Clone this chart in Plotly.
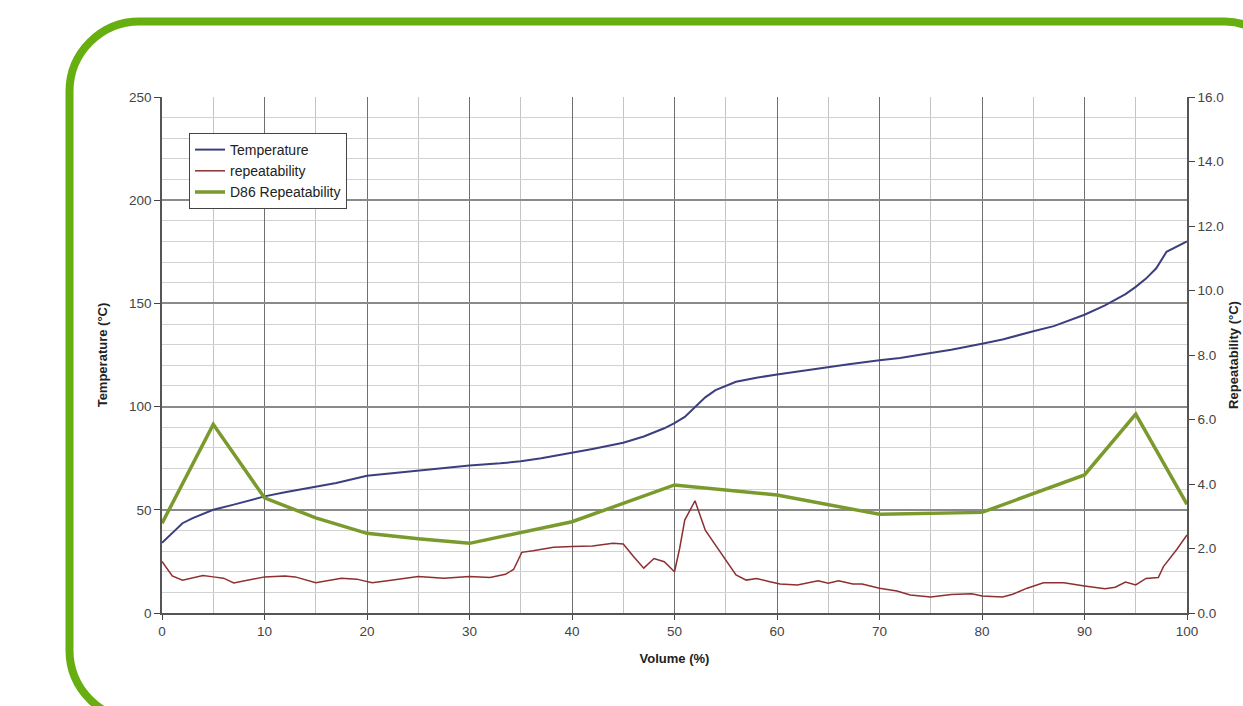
import plotly.graph_objects as go

# ---- data ----
temp_vol = [0, 1, 2, 3, 4, 5, 7, 10, 12, 15, 17, 20, 22, 25, 28, 30, 33, 35, 37, 40, 42, 45, 47, 49,
            50, 51, 52, 53, 54, 55, 56, 57, 58, 60, 62, 65, 67, 70, 72, 75, 77, 80, 82, 85, 87, 90,
            92, 94, 95, 96, 97, 98, 99, 100]
temperature = [34, 39, 43.5, 46, 48, 50, 52.5, 56.5, 58.5, 61, 63, 66.5, 67.5, 69, 70.5, 71.5, 72.5,
               73.5, 75, 77.5, 79.5, 82.5, 85.5, 89.5, 92, 95, 100, 104.5, 108, 110, 112, 113, 114,
               115.5, 117, 119, 120.5, 122.5, 123.5, 126, 127.5, 130.5, 132.5, 136.5, 139, 144.5,
               149, 154.5, 158, 162, 167, 175, 177.5, 180]

rep_vol = [0, 1, 2, 3, 4, 5, 6, 7, 8, 10, 12, 13, 15, 17.5, 19, 20.5, 22, 25, 27.5, 30, 32, 33.5,
           34.3, 35.1, 36.2, 38.2, 40, 42, 44, 45, 46, 47, 48, 49, 50, 50.5, 51, 52, 53, 54, 55,
           56, 57, 58, 59.3, 60.3, 62, 64, 65, 66, 67.4, 68.3, 70, 71.7, 73, 75, 77, 79, 80, 82,
           83, 84.4, 86, 88, 90, 92, 93, 94, 95, 96, 97.2, 97.7, 99, 100]
repeatability = [1.6, 1.15, 1.02, 1.08, 1.16, 1.12, 1.08, 0.93, 1.0, 1.12, 1.15, 1.12, 0.94, 1.08,
                 1.05, 0.94, 1.0, 1.13, 1.08, 1.13, 1.1, 1.2, 1.35, 1.88, 1.93, 2.04, 2.06, 2.08,
                 2.16, 2.14, 1.75, 1.39, 1.69, 1.59, 1.28, 2.0, 2.88, 3.48, 2.57, 2.11, 1.64, 1.18,
                 1.02, 1.07, 0.97, 0.9, 0.87, 1.0, 0.92, 1.0, 0.9, 0.9, 0.77, 0.68, 0.56, 0.5, 0.57,
                 0.6, 0.53, 0.5, 0.58, 0.77, 0.94, 0.94, 0.84, 0.75, 0.8, 0.96, 0.87, 1.07, 1.1,
                 1.44, 1.97, 2.42]

d86_vol = [0, 5, 10, 15, 20, 25, 30, 40, 50, 60, 70, 80, 90, 95, 100]
d86_rep = [2.78, 5.85, 3.57, 2.95, 2.47, 2.3, 2.16, 2.83, 3.97, 3.66, 3.06, 3.12, 4.28, 6.17, 3.37]

x_ticks = list(range(0, 101, 10))
y_ticks = [0, 50, 100, 150, 200, 250]
y2_ticks = [0, 2, 4, 6, 8, 10, 12, 14, 16]

# ---- layout geometry (pixels) ----
W, H = 1243, 706
L, R, T, B = 162, 56, 97, 93
PW, PH = W - L - R, H - T - B


def px(x):
    return (x - L) / PW


def py(y):
    return (H - B - y) / PH


def frame_path(left, top, right, bottom, r_tl, r_tr, r_br, r_bl):
    k = 0.5523
    d = f"M{px(left + r_tl)},{py(top)} "
    d += f"L{px(right - r_tr)},{py(top)} "
    d += (f"C{px(right - r_tr + k * r_tr)},{py(top)} {px(right)},{py(top + r_tr - k * r_tr)} "
          f"{px(right)},{py(top + r_tr)} ")
    d += f"L{px(right)},{py(bottom - r_br)} "
    d += (f"C{px(right)},{py(bottom - r_br + k * r_br)} {px(right - r_br + k * r_br)},{py(bottom)} "
          f"{px(right - r_br)},{py(bottom)} ")
    d += f"L{px(left + r_bl)},{py(bottom)} "
    d += (f"C{px(left + r_bl - k * r_bl)},{py(bottom)} {px(left)},{py(bottom - r_bl + k * r_bl)} "
          f"{px(left)},{py(bottom - r_bl)} ")
    d += f"L{px(left)},{py(top + r_tl)} "
    d += (f"C{px(left)},{py(top + r_tl - k * r_tl)} {px(left + r_tl - k * r_tl)},{py(top)} "
          f"{px(left + r_tl)},{py(top)} Z")
    return d


FONT = "Liberation Sans, Arial, sans-serif"
TICKFONT = dict(family=FONT, size=13.5, color="#444")
TITLEFONT = dict(family=FONT, size=13, color="#222")

fig = go.Figure()
fig.add_trace(go.Scatter(x=temp_vol, y=temperature, name="Temperature", mode="lines",
                         line=dict(color="#3b3f7e", width=2)))
fig.add_trace(go.Scatter(x=rep_vol, y=repeatability, name="repeatability", mode="lines",
                         line=dict(color="#8e2f30", width=1.5), yaxis="y2"))
fig.add_trace(go.Scatter(x=d86_vol, y=d86_rep, name="D86 Repeatability", mode="lines",
                         line=dict(color="#7b9a2e", width=3.5), yaxis="y2"))

fig.update_layout(
    width=W, height=H,
    margin=dict(l=L, r=R, t=T, b=B),
    paper_bgcolor="white", plot_bgcolor="white",
    font=dict(family=FONT, size=12, color="#333"),
    showlegend=True,
    legend=dict(x=px(189), y=py(133), xanchor="left", yanchor="top",
                bgcolor="white", bordercolor="#444", borderwidth=1,
                font=dict(family=FONT, size=14, color="#222"),
                tracegroupgap=0, itemwidth=30),
    xaxis=dict(range=[0, 100], tickvals=x_ticks, ticks="outside", ticklen=5, tickcolor="#444",
               showline=True, linecolor="#555", linewidth=1.5, automargin=False,
               showgrid=True, gridcolor="#6f6f6f", gridwidth=1,
               minor=dict(dtick=5, showgrid=True, gridcolor="#c4c4c4", gridwidth=1),
               zeroline=False, tickfont=TICKFONT,
               title=dict(text="<b>Volume (%)</b>", font=TITLEFONT, standoff=16)),
    yaxis=dict(range=[0, 250], tickvals=y_ticks, ticks="outside", ticklen=6, tickcolor="#444",
               showline=True, linecolor="#555", linewidth=1.5, automargin=False,
               showgrid=True, gridcolor="#8a8a8a", gridwidth=1.5,
               minor=dict(dtick=10, showgrid=True, gridcolor="#d2d2d2", gridwidth=1),
               zeroline=False, tickfont=TICKFONT,
               title=dict(text="<b>Temperature (°C)</b>", font=TITLEFONT, standoff=18)),
    yaxis2=dict(range=[0, 16], tickvals=y2_ticks, ticktext=[f"{v:.1f}" for v in y2_ticks],
                overlaying="y", side="right", ticks="outside", ticklen=6, tickcolor="#444",
                showline=True, linecolor="#555", linewidth=1.5, showgrid=False, zeroline=False,
                automargin=False, tickfont=TICKFONT,
                title=dict(text="<b>Repeatability (°C)</b>", font=TITLEFONT, standoff=6)),
    shapes=[dict(type="path", xref="paper", yref="paper",
                 path=frame_path(69.5, 21.5, 1282, 720, 70, 57, 57, 70),
                 line=dict(color="#67ae10", width=8), fillcolor="rgba(0,0,0,0)", layer="above")],
)

fig.write_html("out.html", config={"displayModeBar": False},
               post_script="document.body.style.margin='0';document.body.style.overflow='hidden';")
